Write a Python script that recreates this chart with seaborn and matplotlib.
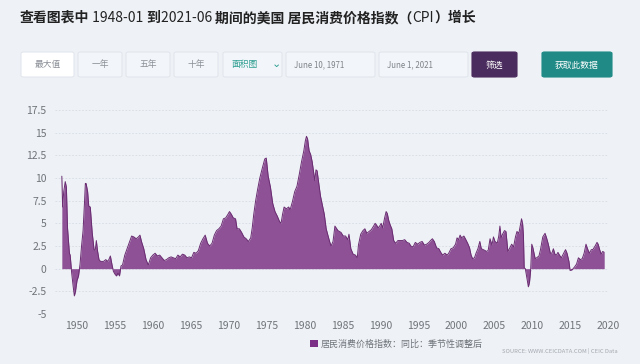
import numpy as np
import pandas as pd
import matplotlib
matplotlib.use("Agg")
import matplotlib.pyplot as plt
from matplotlib.patches import FancyBboxPatch, Rectangle
import seaborn as sns

# ── Données : CPI US, variation annuelle (%) ──────────────────────────────────
years = [
    1948.0, 1948.1, 1948.25, 1948.45, 1948.6, 1948.75, 1948.9, 1949.0, 1949.1, 1949.3,
    1949.5, 1949.65, 1949.8, 1950.0, 1950.2, 1950.4, 1950.6, 1950.8, 1951.0, 1951.1,
    1951.2, 1951.4, 1951.55, 1951.75, 1952.0, 1952.25, 1952.4, 1952.55, 1952.7, 1952.9,
    1953.1, 1953.5, 1953.8, 1954.0, 1954.2, 1954.4, 1954.6, 1954.8, 1955.0, 1955.2,
    1955.4, 1955.6, 1955.8, 1956.0, 1956.3, 1956.6, 1956.9, 1957.2, 1957.5, 1957.8,
    1958.1, 1958.3, 1958.5, 1958.8, 1959.1, 1959.4, 1959.7, 1960.0, 1960.3, 1960.6,
    1960.9, 1961.2, 1961.5, 1961.8, 1962.1, 1962.4, 1962.7, 1963.0, 1963.3, 1963.6,
    1963.9, 1964.2, 1964.5, 1964.8, 1965.1, 1965.4, 1965.7, 1966.0, 1966.3, 1966.6,
    1966.9, 1967.2, 1967.5, 1967.8, 1968.1, 1968.4, 1968.7, 1969.0, 1969.3, 1969.6,
    1969.9, 1970.1, 1970.35, 1970.6, 1970.9, 1971.1, 1971.4, 1971.7, 1972.0, 1972.3,
    1972.6, 1972.9, 1973.1, 1973.3, 1973.55, 1973.8, 1974.1, 1974.4, 1974.75, 1974.95,
    1975.2, 1975.5, 1975.8, 1976.1, 1976.4, 1976.7, 1976.9, 1977.1, 1977.3, 1977.6,
    1977.9, 1978.1, 1978.4, 1978.7, 1979.0, 1979.3, 1979.6, 1979.9, 1980.1, 1980.25,
    1980.4, 1980.6, 1980.8, 1981.0, 1981.2, 1981.35, 1981.5, 1981.65, 1981.9, 1982.1,
    1982.35, 1982.6, 1982.85, 1983.1, 1983.3, 1983.5, 1983.75, 1984.0, 1984.4, 1984.8,
    1985.1, 1985.4, 1985.7, 1985.85, 1986.1, 1986.4, 1986.7, 1986.95, 1987.1, 1987.4,
    1987.7, 1987.95, 1988.2, 1988.5, 1988.8, 1989.1, 1989.3, 1989.5, 1989.7, 1989.9,
    1990.1, 1990.3, 1990.55, 1990.75, 1990.9, 1991.1, 1991.3, 1991.5, 1991.75, 1992.0,
    1992.3, 1992.6, 1992.9, 1993.2, 1993.5, 1993.8, 1994.0, 1994.3, 1994.6, 1994.9,
    1995.2, 1995.5, 1995.8, 1996.1, 1996.4, 1996.6, 1996.85, 1997.1, 1997.4, 1997.7,
    1997.95, 1998.2, 1998.5, 1998.8, 1999.0, 1999.3, 1999.6, 1999.9, 2000.1, 2000.3,
    2000.5, 2000.7, 2001.0, 2001.2, 2001.5, 2001.75, 2001.95, 2002.15, 2002.4, 2002.6,
    2002.85, 2003.1, 2003.3, 2003.55, 2003.8, 2003.95, 2004.2, 2004.45, 2004.7, 2004.9,
    2005.1, 2005.4, 2005.6, 2005.75, 2005.9, 2006.1, 2006.35, 2006.55, 2006.8, 2007.0,
    2007.3, 2007.55, 2007.8, 2008.0, 2008.25, 2008.5, 2008.6, 2008.75, 2008.85, 2008.95,
    2009.1, 2009.3, 2009.5, 2009.65, 2009.8, 2009.95, 2010.1, 2010.4, 2010.6, 2010.9,
    2011.1, 2011.4, 2011.7, 2011.9, 2012.1, 2012.4, 2012.6, 2012.8, 2013.0, 2013.2,
    2013.4, 2013.6, 2013.85, 2014.1, 2014.4, 2014.6, 2014.85, 2015.0, 2015.3, 2015.6,
    2015.85, 2016.1, 2016.35, 2016.6, 2016.85, 2017.1, 2017.3, 2017.55, 2017.8, 2018.0,
    2018.3, 2018.55, 2018.7, 2018.9, 2019.1, 2019.3, 2019.5,
]
cpi_yoy = [
    10.2, 6.8, 8.5, 9.6, 9.0, 4.5, 2.8, 1.7, 1.5, -0.5,
    -2.0, -3.0, -2.5, -1.3, -0.8, 0.5, 2.5, 4.2, 7.5, 9.4,
    9.4, 8.5, 6.9, 6.8, 4.0, 2.1, 2.0, 3.1, 2.0, 1.0,
    0.8, 0.8, 1.0, 0.8, 1.0, 1.4, 0.5, -0.3, -0.6, -0.8,
    -0.5, -0.8, 0.3, 0.4, 1.5, 2.2, 2.9, 3.6, 3.5, 3.3,
    3.5, 3.7, 3.0, 2.2, 1.0, 0.4, 1.2, 1.5, 1.7, 1.4,
    1.5, 1.2, 0.9, 1.0, 1.2, 1.3, 1.2, 1.1, 1.5, 1.3,
    1.6, 1.5, 1.2, 1.3, 1.2, 1.8, 1.7, 2.0, 2.8, 3.3,
    3.7, 2.8, 2.5, 2.8, 3.7, 4.2, 4.4, 4.7, 5.5, 5.6,
    6.0, 6.3, 6.0, 5.6, 5.5, 4.4, 4.4, 4.0, 3.5, 3.3,
    3.0, 3.4, 4.5, 6.0, 7.5, 8.7, 10.0, 11.0, 12.1, 12.2,
    10.2, 9.0, 7.2, 6.3, 5.8, 5.2, 5.0, 6.0, 6.8, 6.6,
    6.8, 6.5, 7.4, 8.5, 9.1, 10.4, 11.8, 13.0, 14.1, 14.6,
    14.3, 13.0, 12.6, 11.8, 10.6, 9.7, 10.9, 10.8, 9.2, 8.0,
    7.0, 6.0, 4.4, 3.6, 3.0, 2.5, 3.0, 4.7, 4.2, 4.0,
    3.6, 3.6, 3.2, 3.8, 2.2, 1.6, 1.5, 1.2, 2.6, 3.8,
    4.2, 4.4, 3.9, 4.1, 4.3, 4.7, 5.0, 4.8, 4.5, 4.7,
    5.0, 4.5, 5.6, 6.3, 6.1, 5.3, 4.8, 4.4, 3.1, 2.8,
    3.1, 3.1, 3.1, 3.2, 2.9, 2.8, 2.5, 2.4, 2.9, 2.7,
    2.9, 3.0, 2.6, 2.7, 2.9, 3.1, 3.3, 3.0, 2.3, 2.2,
    1.8, 1.5, 1.7, 1.5, 1.7, 2.2, 2.3, 2.7, 3.4, 3.2,
    3.7, 3.4, 3.6, 3.3, 2.8, 2.3, 1.5, 1.1, 1.2, 1.7,
    2.2, 3.0, 2.2, 2.1, 2.0, 1.9, 2.0, 3.3, 2.6, 3.5,
    3.0, 2.8, 3.6, 4.7, 3.4, 3.8, 4.2, 4.1, 1.9, 2.2,
    2.7, 2.4, 3.5, 4.1, 3.9, 5.0, 5.5, 4.9, 3.7, 0.1,
    0.0, -1.0, -2.0, -1.5, -0.2, 2.7, 2.3, 1.1, 1.2, 1.4,
    2.1, 3.5, 3.9, 3.4, 2.8, 1.7, 1.7, 2.2, 1.6, 1.5,
    1.8, 1.5, 1.2, 1.6, 2.1, 1.7, 0.8, -0.2, -0.1, 0.2,
    0.5, 1.2, 1.0, 1.1, 1.7, 2.7, 2.2, 1.7, 2.1, 2.1,
    2.5, 2.9, 2.7, 2.1, 1.6, 1.9, 1.8,
]
y_ticks = [-5, -2.5, 0, 2.5, 5, 7.5, 10, 12.5, 15, 17.5]
y_tick_labels = ["-5", "-2.5", "0", "2.5", "5", "7.5", "10", "12.5", "15", "17.5"]
x_ticks = list(range(1950, 2021, 5))

title_parts = [("查看图表中", "bold"), (" 1948-01 ", "normal"), ("到", "bold"),
               ("2021-06 ", "normal"), ("期间的美国 居民消费价格指数（", "bold"),
               ("CPI", "normal"), ("）增长", "bold")]
buttons = ["最大值", "一年", "五年", "十年"]
date_from = "June 10, 1971"
date_to = "June 1, 2021"
series_label = "居民消费价格指数：同比：季节性调整后"
source_text = "SOURCE: WWW.CEICDATA.COM | CEIC Data"

df = pd.DataFrame({"year": years, "cpi": cpi_yoy})

# ── Style ─────────────────────────────────────────────────────────────────────
BG = "#eef2f7"
FILL = "#8e5196"
EDGE = "#6a2c71"
sns.set_theme(style="white")
plt.rcParams.update({
    "figure.facecolor": BG,
    "axes.facecolor": BG,
})
plt.rcParams["font.family"] = ["Noto Sans CJK SC", "DejaVu Sans"]

W, H = 640, 364
fig = plt.figure(figsize=(6.4, 3.64), dpi=100)


def fx(px):
    return px / W


def fy(py):
    return 1 - py / H


def button(x0, y0, x1, y1, fc, ec):
    fig.patches.append(FancyBboxPatch(
        (fx(x0), fy(y1)), fx(x1 - x0), (y1 - y0) / H,
        boxstyle="round,pad=0,rounding_size=0.004", transform=fig.transFigure,
        facecolor=fc, edgecolor=ec, linewidth=0.8))


# ── Titre (poids mixtes) ──────────────────────────────────────────────────────
renderer = fig.canvas.get_renderer()
x = 20
for txt, weight in title_parts:
    t = fig.text(fx(x), fy(18), txt, fontsize=10, fontweight=weight,
                 color="#222222", va="center", ha="left")
    x += t.get_window_extent(renderer).width

# ── Barre de boutons ─────────────────────────────────────────────────────────
btn_x = [(21, 74), (78, 122), (126, 170), (174, 218)]
for (x0, x1), lbl in zip(btn_x, buttons):
    fcol = "white" if lbl == "最大值" else "#f2f5f9"
    button(x0, 52, x1, 77, fcol, "#e2e7ee")
    fig.text(fx((x0 + x1) / 2), fy(65), lbl, fontsize=6.3, color="#8a8f96",
             ha="center", va="center")

button(223, 52, 282, 77, "#f2f5f9", "#e2e7ee")
fig.text(fx(232), fy(65), "面积图", fontsize=6.3, color="#2a9d8f", ha="left", va="center")
fig.text(fx(276), fy(64), "⌄", fontsize=8, color="#2a9d8f", ha="center", va="center",
         family=["DejaVu Sans"])

for (x0, x1), lbl in zip([(286, 375), (379, 468)], [date_from, date_to]):
    button(x0, 52, x1, 77, "#f2f5f9", "#e2e7ee")
    fig.text(fx(x0 + 8), fy(65), lbl, fontsize=5.7, color="#7d838a", ha="left", va="center")

button(472, 52, 517, 77, "#4b2c5e", "#4b2c5e")
fig.text(fx(494.5), fy(65), "筛选", fontsize=6.3, color="white", ha="center", va="center")
button(542, 52, 612, 77, "#1f8a86", "#1f8a86")
fig.text(fx(577), fy(65), "获取此数据", fontsize=6.3, color="white", ha="center", va="center")

# ── Graphique ────────────────────────────────────────────────────────────────
ax = fig.add_axes([fx(55), fy(314), fx(608 - 55), (314 - 110) / H])
ax.fill_between(df["year"], df["cpi"], 0, color=FILL, linewidth=0)
sns.lineplot(data=df, x="year", y="cpi", ax=ax, color=EDGE, linewidth=0.7)

ax.set_xlim(1947.1, 2020.0)
ax.set_ylim(-5, 17.5)
ax.set_yticks(y_ticks)
ax.set_yticklabels(y_tick_labels)
ax.set_xticks(x_ticks)
ax.set_xticklabels([str(v) for v in x_ticks])
for v in y_ticks:
    ax.axhline(v, color="#d6dce4", linewidth=0.6, linestyle=(0, (2, 2)), zorder=0)
ax.tick_params(axis="both", length=0, labelsize=7.5, labelcolor="#6f747a")
ax.tick_params(axis="x", pad=5)
ax.tick_params(axis="y", pad=6)
for s in ax.spines.values():
    s.set_visible(False)
ax.set_xlabel("")
ax.set_ylabel("")

# ── Légende & source ─────────────────────────────────────────────────────────
fig.patches.append(Rectangle((fx(310), fy(347)), fx(8), 7 / H, transform=fig.transFigure,
                             facecolor="#7b2f86", edgecolor="none"))
fig.text(fx(321), fy(344), series_label, fontsize=6.5, color="#6f747a", ha="left", va="center")
fig.text(fx(618), fy(351), source_text, fontsize=4.2, color="#a4a9af", ha="right", va="center")

fig.savefig("out.png", dpi=100, facecolor=BG)
